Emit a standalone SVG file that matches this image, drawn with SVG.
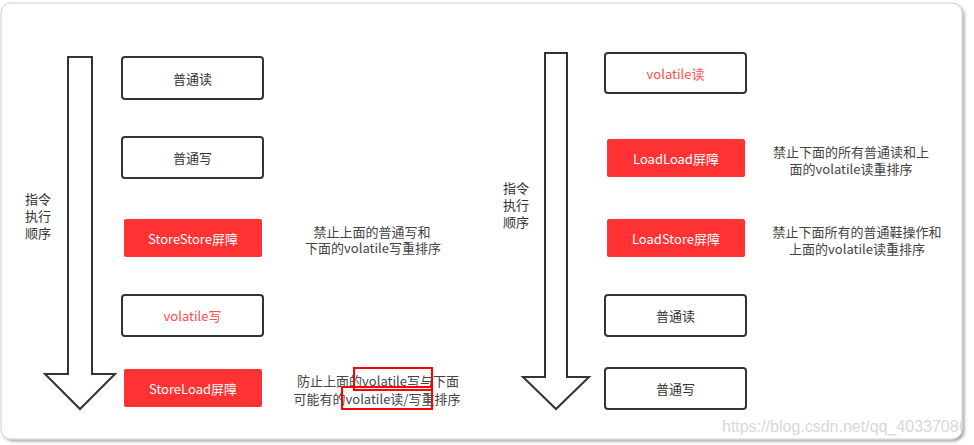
<svg xmlns="http://www.w3.org/2000/svg" width="974" height="445" viewBox="0 0 974 445">
<defs>
<filter id="sh" x="-5%" y="-5%" width="110%" height="115%">
<feGaussianBlur in="SourceAlpha" stdDeviation="1.5"/>
<feOffset dx="2" dy="2"/>
<feComponentTransfer><feFuncA type="linear" slope="0.35"/></feComponentTransfer>
<feMerge><feMergeNode/><feMergeNode in="SourceGraphic"/></feMerge>
</filter>
<clipPath id="frameClip"><rect x="1" y="3" width="961" height="436" rx="10"/></clipPath>
</defs>
<style>
text{font-family:"Noto Sans CJK SC","Microsoft YaHei",sans-serif;font-size:13px;fill:#333;}
.c{text-anchor:middle;dominant-baseline:central;}
.box{fill:#fff;stroke:#333;stroke-width:2;}
.bar{fill:#ff3333;stroke:none;}
.wt{fill:#fff;}
.rt{fill:#ff4d4d;}
.desc{fill:#444;font-size:13px;}
.arrow{fill:#fff;stroke:#333;stroke-width:2;stroke-linejoin:miter;}
.hl{fill:none;stroke:#f00;stroke-width:2;}
.wm{font-family:"Liberation Sans",Arial,sans-serif;font-size:16px;fill:#d8d8d8;}
</style>
<rect x="1" y="3" width="961" height="436" rx="10" fill="#fff" stroke="#d0d0d0" stroke-width="1" filter="url(#sh)"/>

<g id="connectors">
<path id="arrowL" class="arrow" d="M68,57 L92,57 L92,374 L115,374 L80,409 L45,374 L68,374 Z"/>
<path id="arrowR" class="arrow" d="M545,53 L567,53 L567,377 L589,377 L556,409 L523,377 L545,377 Z"/>
</g>

<g id="labelL"><text class="c" x="38" y="198">指令</text><text class="c" x="38" y="215">执行</text><text class="c" x="38" y="232">顺序</text></g>
<g id="labelR"><text class="c" x="516" y="187">指令</text><text class="c" x="516" y="204">执行</text><text class="c" x="516" y="221">顺序</text></g>

<g id="n1"><rect class="box" x="122" y="57" width="141" height="42" rx="3"/><text class="c" x="192.5" y="78">普通读</text></g>
<g id="n2"><rect class="box" x="122" y="137" width="141" height="41" rx="3"/><text class="c" x="192.5" y="157.5">普通写</text></g>
<g id="n3"><rect class="bar" x="124" y="219" width="138" height="38" rx="2"/><text class="c wt" x="193" y="238">StoreStore屏障</text></g>
<g id="n4"><rect class="box" x="122" y="295" width="141" height="41" rx="3"/><text class="c rt" x="192.5" y="315.5">volatile写</text></g>
<g id="n5"><rect class="bar" x="124" y="369" width="138" height="38" rx="2"/><text class="c wt" x="193" y="388">StoreLoad屏障</text></g>

<g id="d1"><text class="c desc" x="372" y="231">禁止上面的普通写和</text><text class="c desc" x="373" y="247">下面的volatile写重排序</text></g>
<g id="d2"><text class="c desc" x="378" y="380">防止上面的volatile写与下面</text><text class="c desc" x="377" y="398">可能有的volatile读/写重排序</text>
<rect class="hl" x="354" y="368" width="78" height="22"/><rect class="hl" x="342" y="387" width="90" height="22"/></g>

<g id="m1"><rect class="box" x="605" y="53" width="141" height="40" rx="3"/><text class="c rt" x="675.5" y="73">volatile读</text></g>
<g id="m2"><rect class="bar" x="607" y="139" width="138" height="38" rx="2"/><text class="c wt" x="676" y="158">LoadLoad屏障</text></g>
<g id="m3"><rect class="bar" x="607" y="219" width="138" height="38" rx="2"/><text class="c wt" x="676" y="238">LoadStore屏障</text></g>
<g id="m4"><rect class="box" x="605" y="295" width="141" height="41" rx="3"/><text class="c" x="675.5" y="315.5">普通读</text></g>
<g id="m5"><rect class="box" x="605" y="368" width="141" height="41" rx="3"/><text class="c" x="675.5" y="388.5">普通写</text></g>

<g id="e1"><text class="c desc" x="851" y="151">禁止下面的所有普通读和上</text><text class="c desc" x="851" y="168">面的volatile读重排序</text></g>
<g id="e2"><text class="c desc" x="857" y="231">禁止下面所有的普通鞋操作和</text><text class="c desc" x="857" y="248">上面的volatile读重排序</text></g>

<text class="wm" x="722" y="432" clip-path="url(#frameClip)">https://blog.csdn.net/qq_40337086</text>
</svg>
